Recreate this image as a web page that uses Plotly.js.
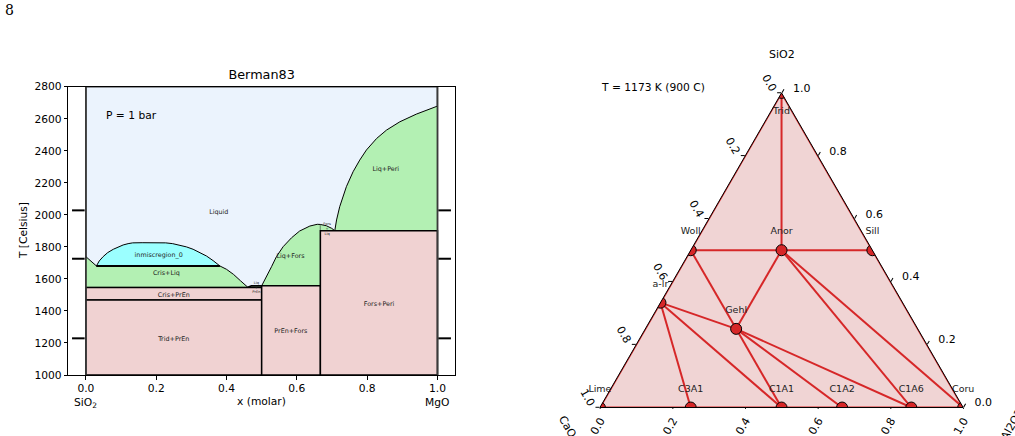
<!DOCTYPE html>
<html><head><meta charset="utf-8">
<script src="https://cdn.plot.ly/plotly-3.0.1.min.js"></script>
<style>html,body{margin:0;padding:0;background:#fff}#chart{width:1015px;height:436px}</style>
</head><body><div id="chart"></div>
<script>
// ================= Left panel: SiO2–MgO binary (Berman83) =================
const xTickVals = [0, 0.2, 0.4, 0.6, 0.8, 1.0];
const xTickText = ['0.0', '0.2', '0.4', '0.6', '0.8', '1.0'];
const tTickVals = [1000, 1200, 1400, 1600, 1800, 2000, 2200, 2400, 2600, 2800];

// invariant temperatures (°C) and compound compositions (x MgO)
const T_MIN = 1000, T_MAX = 2800;
const T_TRID_CRIS = 1468;
const T_EUT_CRIS_PREN = 1547;
const T_PERI_PREN = 1557;
const T_MONOTECTIC = 1680;
const T_EUT_FORS_PERI = 1901;
const X_PREN = 0.5;
const X_FORS = 0.667;
const X_PERI_LIQ = 0.471;

// liquidus / solvus curves
const liqCrisLeftX = [0.0, 0.030];
const liqCrisLeftT = [1739, 1681];
const domeX = [0.030, 0.038, 0.049, 0.062, 0.078, 0.092, 0.106, 0.120, 0.133, 0.160, 0.190, 0.227, 0.247, 0.267, 0.286, 0.305, 0.324, 0.343, 0.362, 0.381];
const domeT = [1681, 1712, 1739, 1764, 1785, 1800, 1812, 1820, 1825, 1826, 1826, 1825, 1820, 1812, 1800, 1785, 1766, 1743, 1714, 1681];
const liqCrisRightX = [0.381, 0.400, 0.420, 0.440, 0.452, 0.461];
const liqCrisRightT = [1681, 1660, 1628, 1588, 1563, 1547];
const liqForsLeftX = [0.500, 0.514, 0.528, 0.542, 0.561, 0.585, 0.608, 0.637, 0.658, 0.667];
const liqForsLeftT = [1557, 1614, 1676, 1739, 1801, 1857, 1899, 1930, 1941, 1940];
const liqForsRightX = [0.667, 0.684, 0.699, 0.708];
const liqForsRightT = [1940, 1932, 1916, 1901];
const liqPeriX = [0.708, 0.713, 0.722, 0.741, 0.760, 0.779, 0.798, 0.827, 0.855, 0.893, 0.940, 1.0];
const liqPeriT = [1901, 1968, 2051, 2176, 2269, 2342, 2405, 2477, 2529, 2581, 2629, 2679];

// end-member markers (short dashes beside the axes)
const endMarkT = [2028, 1726, 1229];
const endMarkXLeft = -0.0215;
const endMarkXRight = 1.0205;

// field labels
const fieldLabels = ['Liquid', 'inmiscregion_0', 'Cris+Liq', 'Cris+PrEn', 'Trid+PrEn', 'Liq+Fors', 'PrEn+Fors', 'Fors+Peri', 'Liq+Peri', 'Fors<br>+<br>Liq', 'Liq<br>+<br>PrEn'];
const fieldLabelX = [0.378, 0.207, 0.229, 0.250, 0.250, 0.582, 0.583, 0.834, 0.853, 0.686, 0.485];
const fieldLabelT = [2015, 1745, 1635, 1499, 1225, 1739, 1270, 1441, 2284, 1912, 1545];
const fieldLabelSize = [6.4, 6.4, 6.4, 6.4, 6.4, 6.4, 6.4, 6.4, 6.4, 3.6, 3.6];

const C_LIQ = '#ebf3fd', C_TWO = '#b3f0b3', C_MISC = '#9bffff', C_SOLID = '#f0d2d2';
const FONT = 'DejaVu Sans, Verdana, sans-serif';

function poly(xs, ts, fill, lw, lc) {
  return {type: 'scatter', x: xs, y: ts, mode: 'lines', fill: 'toself', fillcolor: fill,
    line: {color: lc || '#000', width: lw}, hoverinfo: 'skip', showlegend: false, xaxis: 'x', yaxis: 'y'};
}

const left = [];
left.push(poly([0, 1, 1, 0, 0], [T_MIN, T_MIN, T_MAX, T_MAX, T_MIN], C_LIQ, 1.6, '#3a3a3a'));
// Cris + Liq
left.push(poly([0].concat(liqCrisLeftX, liqCrisRightX, [0]),
  [T_EUT_CRIS_PREN].concat(liqCrisLeftT, liqCrisRightT, [T_EUT_CRIS_PREN]), C_TWO, 1));
// miscibility gap
left.push(poly(domeX.concat([domeX[0]]), domeT.concat([domeT[0]]), C_MISC, 1));
left.push({type: 'scatter', x: [domeX[0], domeX[domeX.length - 1]], y: [T_MONOTECTIC, T_MONOTECTIC], mode: 'lines',
  line: {color: '#000', width: 2}, hoverinfo: 'skip', showlegend: false});
// Liq + PrEn
left.push(poly([liqCrisRightX[liqCrisRightX.length - 1], X_PERI_LIQ, X_PREN, X_PREN],
  [T_EUT_CRIS_PREN, T_PERI_PREN, T_PERI_PREN, T_EUT_CRIS_PREN], C_TWO, 1.8));
// Liq + Fors
left.push(poly(liqForsLeftX.concat([X_FORS, X_PREN]), liqForsLeftT.concat([T_PERI_PREN, T_PERI_PREN]), C_TWO, 1));
left.push(poly(liqForsRightX.concat([X_FORS]), liqForsRightT.concat([T_EUT_FORS_PERI]), C_TWO, 1));
// Liq + Peri
left.push(poly(liqPeriX.concat([1]), liqPeriT.concat([T_EUT_FORS_PERI]), C_TWO, 1));
// solid fields
left.push(poly([0, X_PREN, X_PREN, 0, 0], [T_TRID_CRIS, T_TRID_CRIS, T_EUT_CRIS_PREN, T_EUT_CRIS_PREN, T_TRID_CRIS], C_SOLID, 1.5));
left.push(poly([0, X_PREN, X_PREN, 0, 0], [T_MIN, T_MIN, T_TRID_CRIS, T_TRID_CRIS, T_MIN], C_SOLID, 1.5));
left.push(poly([X_PREN, X_FORS, X_FORS, X_PREN, X_PREN], [T_MIN, T_MIN, T_PERI_PREN, T_PERI_PREN, T_MIN], C_SOLID, 1.5));
left.push(poly([X_FORS, 1, 1, X_FORS, X_FORS], [T_MIN, T_MIN, T_EUT_FORS_PERI, T_EUT_FORS_PERI, T_MIN], C_SOLID, 1.5));
// composition axes edges
left.push({type: 'scatter', x: [0, 0, null, 1, 1], y: [T_MIN, T_MAX, null, T_MIN, T_MAX], mode: 'lines',
  line: {color: '#3a3a3a', width: 1.6}, hoverinfo: 'skip', showlegend: false});
// end-member dashes
left.push({type: 'scatter', x: endMarkT.map(() => endMarkXLeft).concat(endMarkT.map(() => endMarkXRight)),
  y: endMarkT.concat(endMarkT), mode: 'markers', cliponaxis: false,
  marker: {symbol: 'line-ew', size: 9, line: {color: '#000', width: 2}}, hoverinfo: 'skip', showlegend: false});
// field labels
left.push({type: 'scatter', x: fieldLabelX, y: fieldLabelT, mode: 'text', text: fieldLabels,
  textposition: 'middle center', textfont: {family: FONT, size: fieldLabelSize, color: '#222'},
  hoverinfo: 'skip', showlegend: false});

// ================= Right panel: CaO–Al2O3–SiO2 ternary at 900 C =================
const phaseNames = ['Trid', 'Woll', 'Sill', 'Anor', 'a-lr', 'Gehl', 'Lime', 'C3A1', 'C1A1', 'C1A2', 'C1A6', 'Coru'];
const phaseSiO2 = [1, 0.5, 0.5, 0.5, 1 / 3, 0.25, 0, 0, 0, 0, 0, 0];
const phaseCaO = [0, 0.5, 0, 0.25, 2 / 3, 0.5, 1, 0.75, 0.5, 1 / 3, 1 / 7, 0];
const phaseAl2O3 = [0, 0, 0.5, 0.25, 0, 0.25, 0, 0.25, 0.5, 2 / 3, 6 / 7, 1];
const phaseLabelPos = ['bottom center', 'top center', 'top center', 'top center', 'top center', 'top center',
  'top center', 'top center', 'top center', 'top center', 'top center', 'top center'];
const tieFrom = ['Trid', 'Woll', 'Anor', 'Woll', 'Anor', 'Anor', 'Anor', 'a-lr', 'a-lr', 'a-lr', 'Gehl', 'Gehl', 'Gehl'];
const tieTo = ['Anor', 'Anor', 'Sill', 'Gehl', 'Gehl', 'C1A6', 'Coru', 'Gehl', 'C3A1', 'C1A1', 'C1A1', 'C1A2', 'C1A6'];
const edgeChain = ['Trid', 'Woll', 'a-lr', 'Lime', 'C3A1', 'C1A1', 'C1A2', 'C1A6', 'Coru', 'Sill', 'Trid'];
const ternTickVals = [0, 0.2, 0.4, 0.6, 0.8, 1.0];
const ternTickText = ['1.0', '0.8', '0.6', '0.4', '0.2', '0.0'];
const NB = '\u00A0\u00A0';

const RED = '#d62728';
const idx = n => phaseNames.indexOf(n);
const ta = [], tb = [], tc = [];
tieFrom.forEach((f, i) => {
  [f, tieTo[i]].forEach(n => { ta.push(phaseSiO2[idx(n)]); tb.push(phaseCaO[idx(n)]); tc.push(phaseAl2O3[idx(n)]); });
  ta.push(null); tb.push(null); tc.push(null);
});
const ea = edgeChain.map(n => phaseSiO2[idx(n)]);
const eb = edgeChain.map(n => phaseCaO[idx(n)]);
const ec = edgeChain.map(n => phaseAl2O3[idx(n)]);

const right = [
  {type: 'scatterternary', subplot: 'ternary', a: ea, b: eb, c: ec, mode: 'lines',
    line: {color: RED, width: 2}, hoverinfo: 'skip', showlegend: false},
  {type: 'scatterternary', subplot: 'ternary', a: ta, b: tb, c: tc, mode: 'lines', connectgaps: false,
    line: {color: RED, width: 2}, hoverinfo: 'skip', showlegend: false},
  {type: 'scatterternary', subplot: 'ternary', a: phaseSiO2, b: phaseCaO, c: phaseAl2O3, mode: 'markers',
    marker: {color: RED, size: 11, line: {color: '#000', width: 1}}, hoverinfo: 'skip', showlegend: false},
  {type: 'scatterternary', subplot: 'ternary', a: phaseSiO2, b: phaseCaO, c: phaseAl2O3, mode: 'markers+text',
    text: phaseNames, textposition: phaseLabelPos, cliponaxis: false,
    textfont: {family: FONT, size: 9.5, color: '#222'},
    marker: {size: 20, color: 'rgba(0,0,0,0)'}, hoverinfo: 'skip', showlegend: false}
];

function ternAxis(angle, len, texts) {
  return {tickmode: 'array', tickvals: ternTickVals, ticktext: texts, tickangle: angle,
    ticks: 'outside', ticklen: len, tickwidth: 1, tickcolor: '#000', showgrid: false,
    showline: true, linecolor: '#000', linewidth: 1, layer: 'above traces', min: 0,
    tickfont: {family: FONT, size: 11, color: '#000'}, title: {text: ''}};
}

const axisCommon = {showline: true, linecolor: '#000', linewidth: 1, mirror: true, ticks: 'outside',
  ticklen: 3.5, tickcolor: '#000', tickwidth: 1, showgrid: false, zeroline: false,
  tickfont: {family: FONT, size: 10.7, color: '#000'}};

function note(text, x, y, opts) {
  return Object.assign({text: text, xref: 'paper', yref: 'paper', x: x, y: y, xanchor: 'center', yanchor: 'middle',
    showarrow: false, font: {family: FONT, size: 10.7, color: '#000'}}, opts || {});
}

const layout = {
  width: 1015, height: 436, margin: {l: 0, r: 0, t: 0, b: 0},
  paper_bgcolor: '#fff', plot_bgcolor: '#fff', showlegend: false,
  font: {family: FONT, color: '#000'},
  title: {text: 'Berman83', x: 0.2578, xanchor: 'center', y: 0.828, yanchor: 'middle',
    font: {family: FONT, size: 12.8, color: '#000'}},
  xaxis: Object.assign({}, axisCommon, {domain: [0.0673, 0.4483], range: [-0.05, 1.05],
    tickmode: 'array', tickvals: xTickVals, ticktext: xTickText, anchor: 'y'}),
  yaxis: Object.assign({}, axisCommon, {domain: [0.1399, 0.8011], range: [T_MIN, T_MAX],
    tickmode: 'array', tickvals: tTickVals, anchor: 'x'}),
  ternary: {domain: {x: [0.58, 0.96], y: [0.0653, 0.7869]}, sum: 1, bgcolor: '#f0d4d4',
    aaxis: ternAxis(60, 4, ternTickText),
    baxis: ternAxis(-60, 1, ternTickText),
    caxis: ternAxis(0, 4, ternTickText.map(t => NB + t))},
  annotations: [
    note('8', 0.0094, 0.977, {font: {family: 'DejaVu Serif, serif', size: 14, color: '#000'}}),
    note('P = 1 bar', 0.052, 2623, {xref: 'x', yref: 'y', xanchor: 'left'}),
    note('x (molar)', 0.2578, 0.0787),
    note('T [Celsius]', 0.0227, 0.470, {textangle: -90}),
    note('SiO<sub>2</sub>', 0, 0.0757, {xref: 'x'}),
    note('MgO', 1, 0.0757, {xref: 'x'}),
    note('SiO2', 0.770, 0.876, {font: {family: FONT, size: 11, color: '#000'}}),
    note('T = 1173 K (900 C)', 0.590, 0.800, {xanchor: 'left'}),
    note('CaO', 0.5596, 0.0206, {textangle: 60, font: {family: FONT, size: 11, color: '#000'}}),
    note('Al2O3', 0.997, 0.0275, {textangle: -60, font: {family: FONT, size: 11, color: '#000'}})
  ]
};

Plotly.newPlot('chart', left.concat(right), layout, {staticPlot: true, displayModeBar: false});
</script></body></html>
